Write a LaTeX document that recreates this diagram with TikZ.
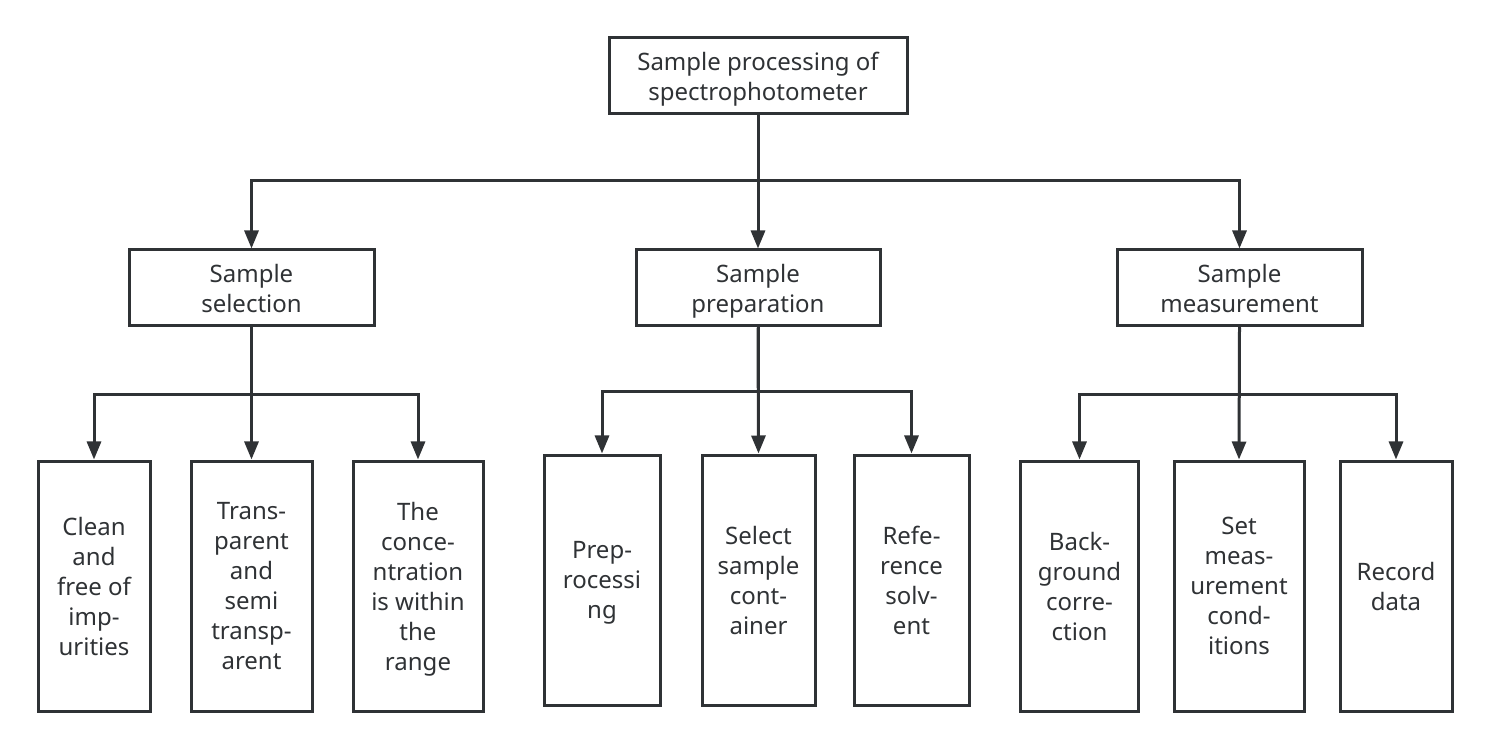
\documentclass[tikz,border=0pt]{standalone}
\usepackage{fontspec}
\setmainfont{Noto Sans}
\usetikzlibrary{arrows.meta}
\definecolor{mgray}{HTML}{2F3235}
\tikzset{blk/.style = {draw = mgray, line width = 1.5pt, rectangle, inner sep = 0,
                       align = center, text = mgray, text depth = 0pt,
                       font = \fontsize{12}{15}\selectfont,
                       execute at begin node = \strut}}
\tikzset{leaf/.style = {blk, minimum height = 125pt}}
\tikzset{arr/.style = {draw = mgray, line width = 1.5pt,
                       -{Triangle[length = 9pt, width = 7pt]}}}

\begin{document}
\begin{tikzpicture}[x = 0.5pt, y = -0.5pt]
    \useasboundingbox (0, 0) rectangle (1488, 748);

    \node [blk, minimum width = 149pt, minimum height = 38pt] (root) at (758, 76) {Sample processing of\\spectrophotometer};

    \node [blk, minimum width = 122.5pt, minimum height = 38pt] (sel) at (251.5, 288) {Sample\\selection};
    \node [blk, minimum width = 122pt, minimum height = 38pt] (prep) at (758, 288) {Sample\\preparation};
    \node [blk, minimum width = 122.5pt, minimum height = 38pt] (meas) at (1239.5, 288) {Sample\\measurement};

    \node [leaf, minimum width = 56pt] (clean) at (94, 586) {Clean\\and\\free of\\imp-\\urities};
    \node [leaf, minimum width = 60.5pt] (trans) at (251.5, 586) {Trans-\\parent\\and\\semi\\transp-\\arent};
    \node [leaf, minimum width = 65pt] (conc) at (418, 586) {The\\conce-\\ntration\\is within\\the\\range};

    \node [leaf, minimum width = 58pt] (pre) at (602, 580) {Prep-\\rocessi\\ng};
    \node [leaf, minimum width = 56.5pt] (cont) at (758.5, 580) {Select\\sample\\cont-\\ainer};
    \node [leaf, minimum width = 57.5pt] (solv) at (911.5, 580) {Refe-\\rence\\solv-\\ent};

    \node [leaf, minimum width = 59pt] (back) at (1079.5, 586) {Back-\\ground\\corre-\\ction};
    \node [leaf, minimum width = 65pt] (cond) at (1239, 586) {Set\\meas-\\urement\\cond-\\itions};
    \node [leaf, minimum width = 56pt] (rec) at (1396, 586) {Record\\data};

    \coordinate (j0) at (758, 181);
    \coordinate (j1) at (251.5, 395);
    \coordinate (j2) at (758, 392);
    \coordinate (j3) at (1239.5, 395);

    \draw [arr] (root.south) -- (j0) -| (sel.north);
    \draw [arr] (root.south) -- (prep.north);
    \draw [arr] (j0) -| (meas.north);

    \draw [arr] (sel.south) -- (j1) -| (clean.north);
    \draw [arr] (sel.south) -- (trans.north);
    \draw [arr] (j1) -| (conc.north);

    \draw [arr] (prep.south) -- (j2) -| (pre.north);
    \draw [arr] (prep.south) -- (cont.north);
    \draw [arr] (j2) -| (solv.north);

    \draw [arr] (meas.south) -- (j3) -| (back.north);
    \draw [arr] (meas.south) -- (cond.north);
    \draw [arr] (j3) -| (rec.north);
\end{tikzpicture}
\end{document}
